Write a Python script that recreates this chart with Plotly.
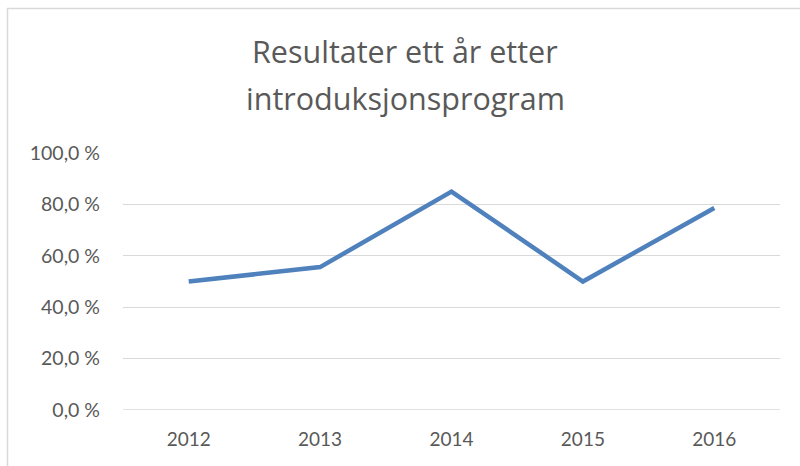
import plotly.graph_objects as go

years = ["2012", "2013", "2014", "2015", "2016"]
values = [50.0, 55.6, 85.0, 50.0, 78.6]
title_lines = ["Resultater ett år etter", "introduksjonsprogram"]
y_ticks = [0, 20, 40, 60, 80, 100]
y_tick_text = [f"{v:.1f}".replace(".", ",") + " %" for v in y_ticks]

W, H = 800, 466
ML, MR, MT, MB = 123, 20, 153, 56
PW, PH = W - ML - MR, H - MT - MB

def px_x(px):
    return (px - ML) / PW

def px_y(py):
    return (H - MB - py) / PH

fig = go.Figure()
fig.add_trace(go.Scatter(
    x=years, y=values, mode="lines",
    line=dict(color="#4F81BD", width=4.5),
    hoverinfo="x+y", showlegend=False,
))

fig.update_layout(
    width=W, height=H,
    margin=dict(l=ML, r=MR, t=MT, b=MB, autoexpand=False),
    paper_bgcolor="white", plot_bgcolor="white",
    font=dict(family="Lato", color="#595959"),
    xaxis=dict(
        type="category", range=[-0.5, len(years) - 0.5],
        showgrid=False, zeroline=False, showline=False,
        ticks="", tickfont=dict(size=19, color="#595959"),
        ticklabelstandoff=16,
    ),
    yaxis=dict(
        range=[0, 100], tickvals=y_ticks, ticktext=y_tick_text,
        showgrid=True, gridcolor="#D9D9D9", gridwidth=1.3,
        zeroline=False, showline=False, ticks="",
        tickfont=dict(size=19.5, color="#595959"),
        ticklabelstandoff=22,
    ),
    shapes=[dict(
        type="rect", xref="paper", yref="paper",
        x0=px_x(7.5), x1=px_x(830), y0=px_y(480), y1=px_y(8.5),
        line=dict(color="#D9D9D9", width=1.5), fillcolor="rgba(0,0,0,0)",
        layer="below",
    ), dict(
        type="line", xref="paper", yref="y",
        x0=0, x1=1, y0=0, y1=0,
        line=dict(color="#D9D9D9", width=1.3), layer="below",
    )],
    annotations=[
        dict(text=title_lines[0], xref="paper", yref="paper",
             x=px_x(405), y=px_y(51), xanchor="center", yanchor="middle",
             showarrow=False, font=dict(family="Open Sans", size=30.5, color="#595959")),
        dict(text=title_lines[1], xref="paper", yref="paper",
             x=px_x(405), y=px_y(98), xanchor="center", yanchor="middle",
             showarrow=False, font=dict(family="Open Sans", size=30.5, color="#595959")),
    ],
)

fig.write_html("out.html", config={"displayModeBar": False},
               post_script="document.body.style.margin='0';")
